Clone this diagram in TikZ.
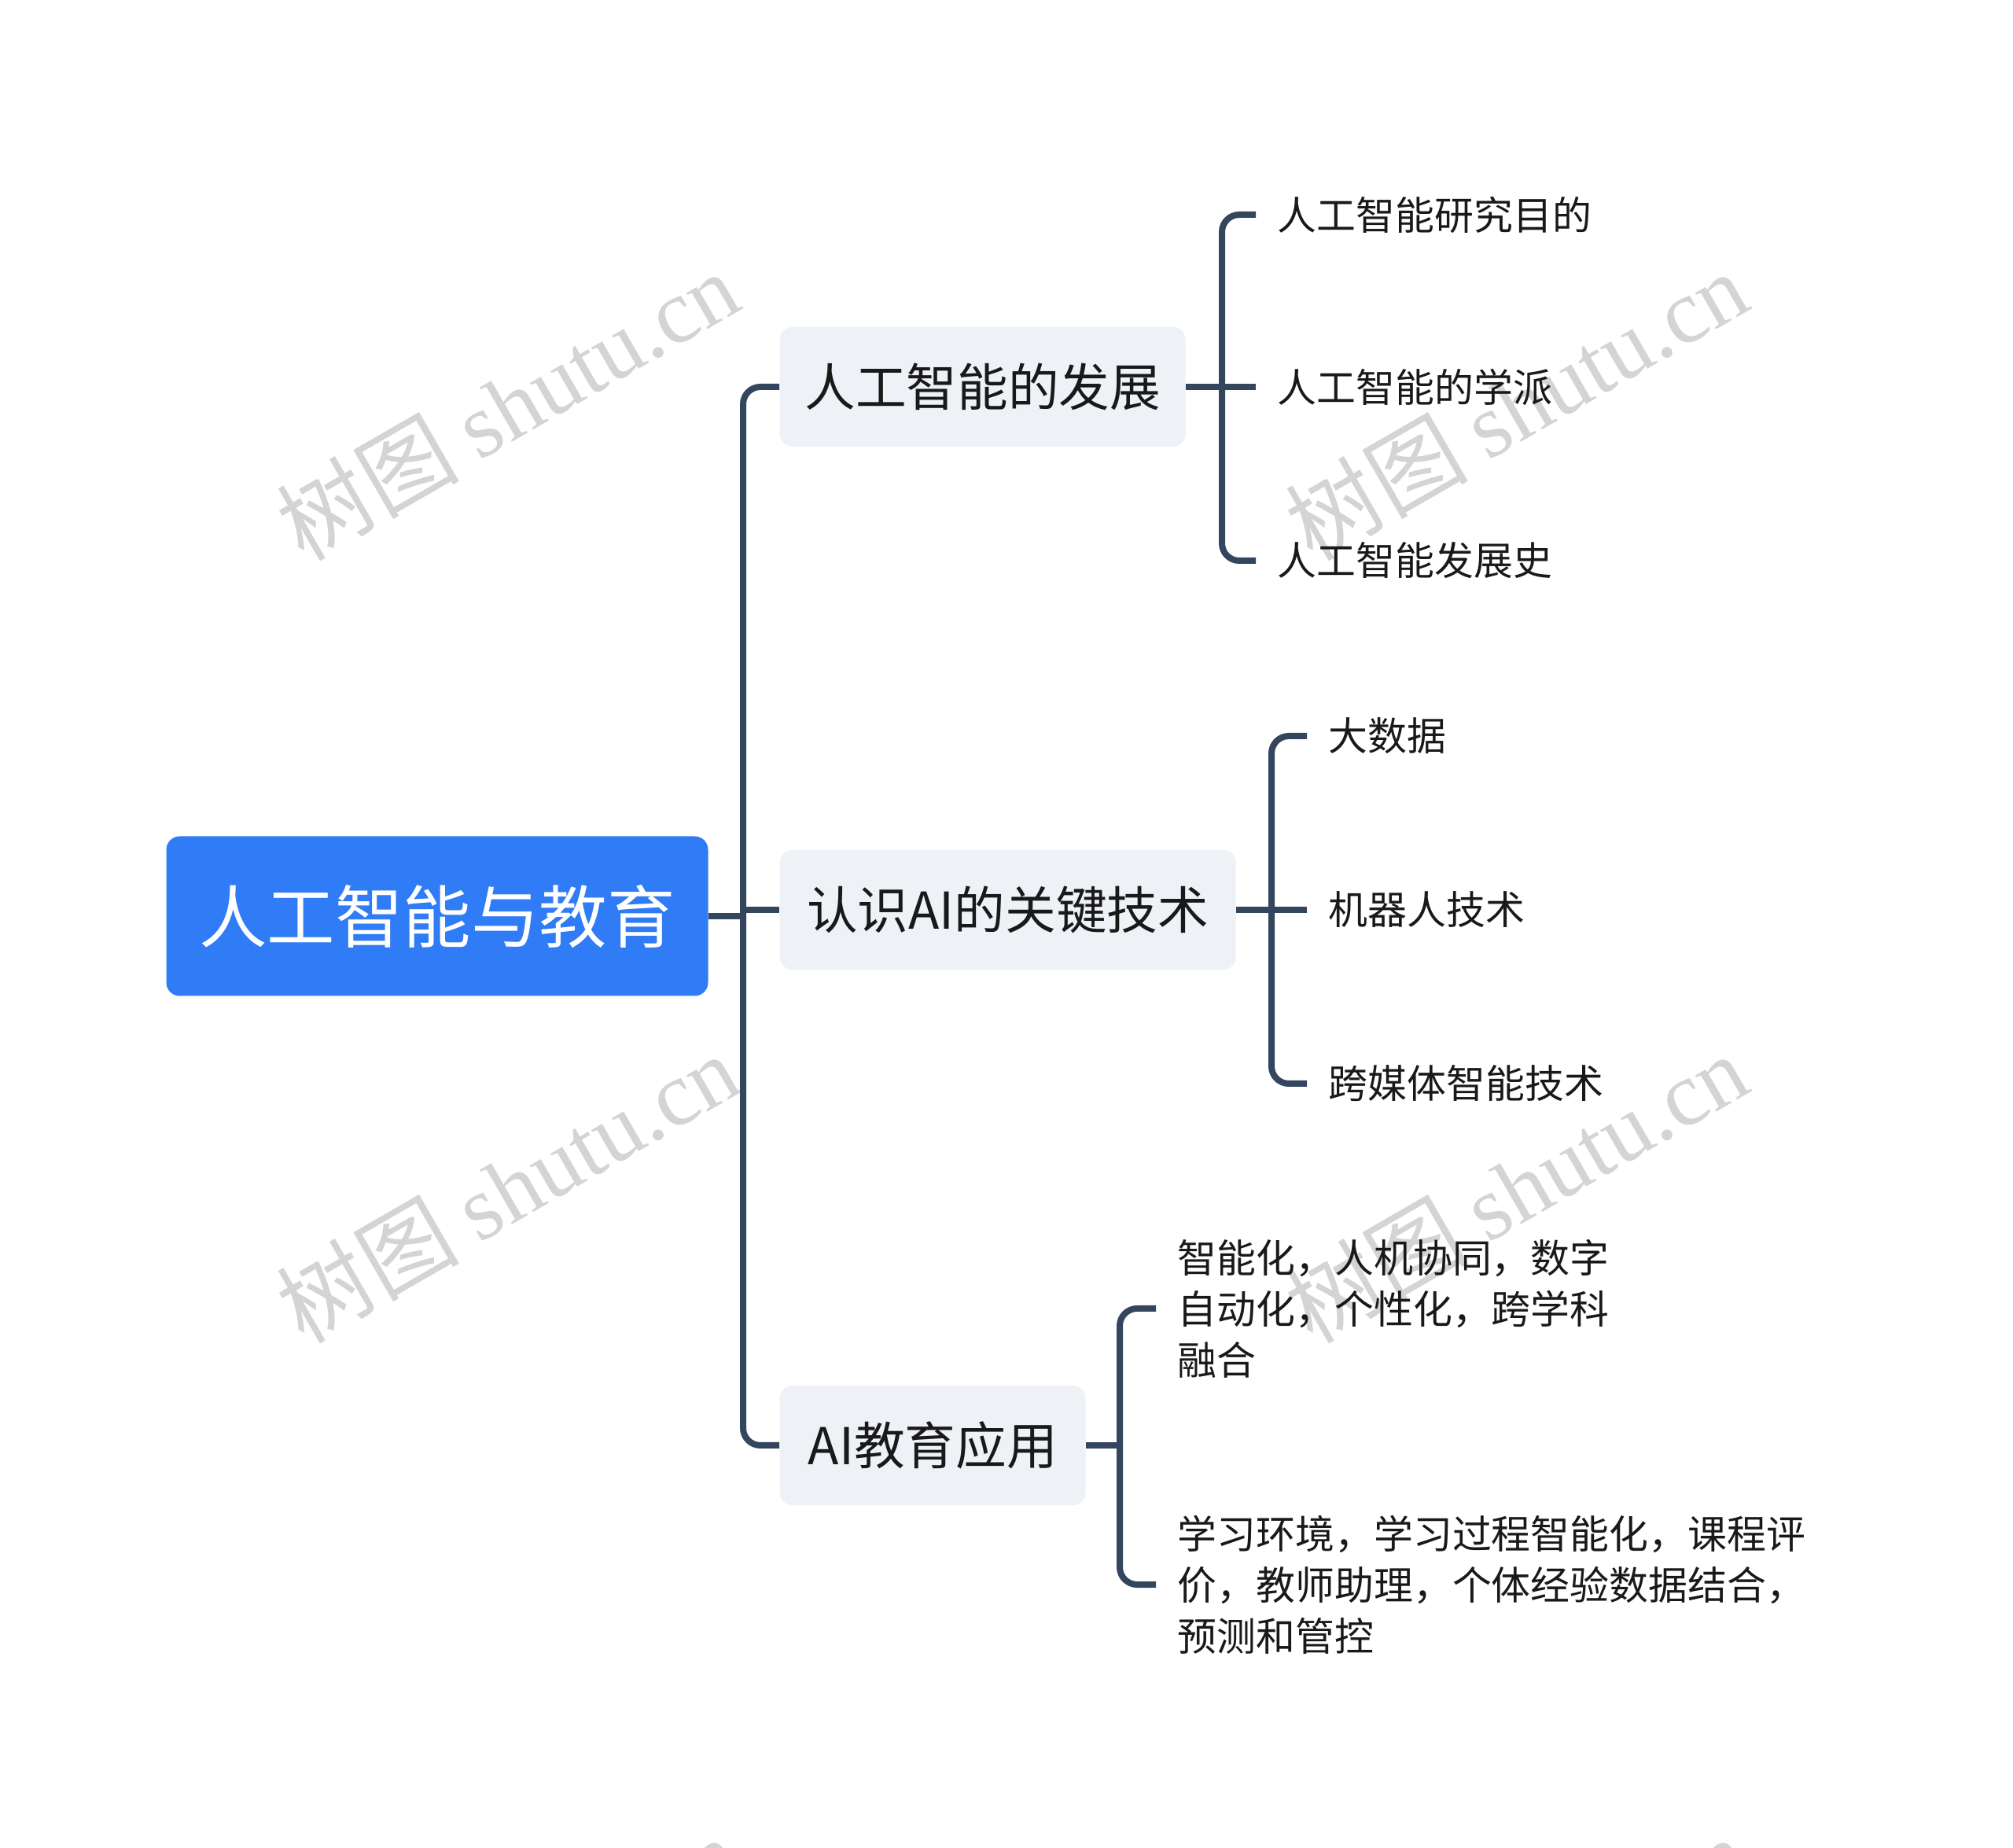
\documentclass[tikz,border=0pt]{standalone}
\usepackage{fontspec}
\setmainfont{Noto Sans CJK SC}
\newfontfamily\wmlatin{Liberation Serif}
\usepackage{tikz}
\definecolor{rootblue}{RGB}{47,124,246}
\definecolor{topicgray}{RGB}{238,241,245}
\definecolor{linkslate}{RGB}{52,69,94}
\tikzset{
  rootbox/.style={fill=rootblue, rounded corners=0.17cm, text=white, minimum width=6.89cm, minimum height=2.03cm, inner sep=0pt, font=\fontsize{24.6pt}{29pt}\selectfont},
  topicbox/.style={fill=topicgray, rounded corners=0.16cm, text=black!90, minimum height=1.52cm, inner sep=0pt, anchor=west, font=\fontsize{18.4pt}{22pt}\selectfont},
  leaftext/.style={anchor=west, inner xsep=0.27cm, inner ysep=0pt, align=left, text=black!90, font=\fontsize{14.2pt}{18.5pt}\selectfont},
  branch/.style={draw=linkslate, line width=0.08cm, rounded corners=0.22cm},
  watermark/.style={rotate=30, text=black!17, inner sep=0pt, font=\fontsize{33pt}{36pt}\selectfont},
}
\begin{document}
\begin{tikzpicture}
\useasboundingbox (0,0) rectangle (25.6,23.49);
\begin{scope}
\clip (0,0) rectangle (25.6,23.49);
\node[watermark] (wm1) at (6.45,18.34) {树图 {\wmlatin shutu.cn}};
\node[watermark] (wm2) at (19.28,18.34) {树图 {\wmlatin shutu.cn}};
\node[watermark] (wm3) at (6.45,8.39) {树图 {\wmlatin shutu.cn}};
\node[watermark] (wm4) at (19.28,8.39) {树图 {\wmlatin shutu.cn}};
\node[watermark] (wm5) at (6.45,-1.57) {树图 {\wmlatin shutu.cn}};
\node[watermark] (wm6) at (19.28,-1.57) {树图 {\wmlatin shutu.cn}};
\end{scope}
\node[rootbox] (root) at (5.56,11.84) {人工智能与教育};
\node[topicbox, minimum width=5.16cm] (dev) at (9.91,18.57) {人工智能的发展};
\node[topicbox, minimum width=5.80cm] (key) at (9.91,11.92) {认识AI的关键技术};
\node[topicbox, minimum width=3.89cm] (app) at (9.91,5.11) {AI教育应用};
\node[leaftext] (dev-a) at (15.97,20.76) {人工智能研究目的};
\node[leaftext] (dev-b) at (15.97,18.57) {人工智能的学派};
\node[leaftext] (dev-c) at (15.97,16.36) {人工智能发展史};
\node[leaftext] (key-a) at (16.62,14.13) {大数据};
\node[leaftext] (key-b) at (16.62,11.92) {机器人技术};
\node[leaftext] (key-c) at (16.62,9.71) {跨媒体智能技术};
\node[leaftext] (app-a) at (14.70,6.85) {智能化，人机协同，数字\\自动化，个性化，跨学科\\融合};
\node[leaftext] (app-b) at (14.70,3.34) {学习环境，学习过程智能化，课程评\\价，教师助理，个体经验数据结合，\\预测和管控};
\coordinate (trunk) at (9.45,11.84);
\coordinate (devfork) at (15.54,18.57);
\coordinate (keyfork) at (16.17,11.92);
\coordinate (appfork) at (14.24,5.11);
\draw[branch] (root.east) -- (trunk);
\draw[branch] (trunk) |- (dev.west);
\draw[branch] (trunk) |- (app.west);
\draw[branch] (trunk |- key.west) -- (key.west);
\draw[branch] (dev.east) -- (dev-b.west);
\draw[branch] (devfork) |- (dev-a.west);
\draw[branch] (devfork) |- (dev-c.west);
\draw[branch] (key.east) -- (key-b.west);
\draw[branch] (keyfork) |- (key-a.west);
\draw[branch] (keyfork) |- (key-c.west);
\draw[branch] (app.east) -- (appfork);
\draw[branch] (appfork) |- (app-a.west);
\draw[branch] (appfork) |- (app-b.west);
\end{tikzpicture}
\end{document}
